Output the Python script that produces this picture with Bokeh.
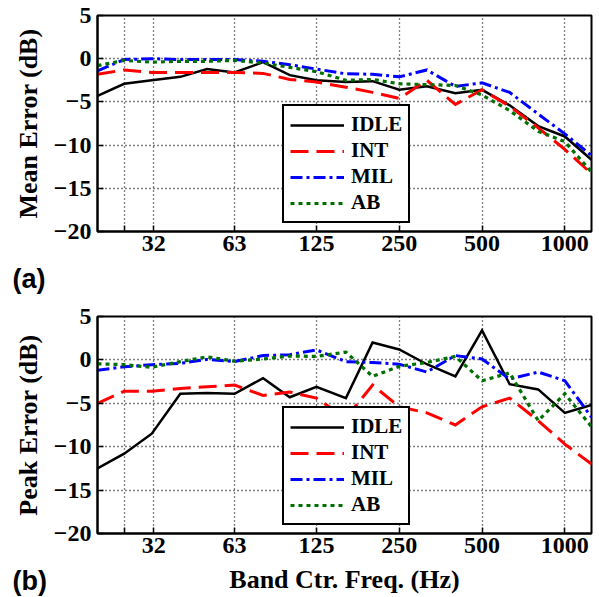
from bokeh.plotting import figure
from bokeh.layouts import column
from bokeh.models import FixedTicker, Label, Legend, LegendItem, Range1d
from bokeh.embed import file_html
from bokeh.resources import INLINE

# ---------------- data ----------------
FREQS = [20, 25, 31.5, 40, 50, 63, 80, 100, 125, 160, 200, 250, 315, 400,
         500, 630, 800, 1000, 1250]
XTICKS = [25, 32, 63, 125, 250, 500, 1000]
XTICK_LABELS = ["", "32", "63", "125", "250", "500", "1000"]
YTICKS = [-20, -15, -10, -5, 0, 5]
YTICK_LABELS = ["\u221220", "\u221215", "\u221210", "\u22125", "0", "5"]
SERIES = ["IDLE", "INT", "MIL", "AB"]

mean_idle = [-4.3, -2.9, -2.5, -2.1, -1.2, -1.6, -0.4, -1.9, -2.5, -2.7,
             -2.6, -3.6, -3.2, -4.0, -3.6, -5.4, -7.8, -9.0, -11.7]
mean_int = [-1.8, -1.3, -1.6, -1.6, -1.6, -1.6, -1.7, -2.4, -2.7, -3.3,
            -3.9, -4.6, -2.5, -5.3, -3.6, -5.5, -8.0, -10.5, -13.3]
mean_mil = [-1.4, -0.1, 0.0, -0.1, -0.1, -0.1, -0.3, -0.7, -1.2, -1.75,
            -1.8, -2.1, -1.3, -3.2, -2.8, -3.9, -6.4, -8.7, -11.2]
mean_ab = [-0.8, -0.2, -0.4, -0.3, -0.3, -0.2, -0.5, -1.0, -1.5, -2.5,
           -2.4, -2.9, -3.0, -3.1, -4.2, -6.0, -8.4, -9.6, -13.1]

peak_idle = [-12.5, -10.8, -8.5, -3.9, -3.8, -3.9, -2.1, -4.3, -3.1, -4.4,
             2.0, 1.2, -0.5, -1.9, 3.4, -2.8, -3.4, -6.1, -5.2]
peak_int = [-5.0, -3.6, -3.6, -3.3, -3.1, -2.9, -4.1, -3.7, -4.4, -6.7,
            -2.9, -5.4, -6.1, -7.5, -5.4, -4.4, -7.0, -9.7, -12.0]
peak_mil = [-1.2, -0.8, -0.55, -0.4, 0.05, -0.2, 0.5, 0.6, 1.15, -0.2,
            -0.3, -0.5, -1.4, 0.5, 0.1, -2.2, -1.4, -2.4, -6.6]
peak_ab = [-0.45, -0.55, -0.85, -0.2, 0.35, -0.15, 0.1, 0.45, 0.4, 0.9,
           -1.9, -0.75, -0.3, 0.4, -2.4, -1.5, -7.0, -3.9, -7.7]

# ---------------- styles ----------------
STYLES = {
    "IDLE": dict(color="black", dash="solid", width=2.5),
    "INT": dict(color="#ff0000", dash="18 8", width=3),
    "MIL": dict(color="#0000ff", dash="12 4 3 4", width=3),
    "AB": dict(color="#007000", dash="4 4", width=3.2),
}
SERIF = "Liberation Serif"
SANS = "Liberation Sans"
W = 598


def make_panel(series, ylabel, height, border_top, border_bottom):
    p = figure(width=W, height=height, x_axis_type="log",
               x_range=Range1d(20, 1250), y_range=Range1d(-20, 5),
               output_backend="svg", toolbar_location=None,
               min_border_left=97, min_border_right=7,
               min_border_top=border_top, min_border_bottom=border_bottom)
    p.background_fill_color = "white"
    p.border_fill_color = "white"
    p.outline_line_color = "black"
    p.outline_line_width = 2

    for ax in p.xaxis:
        ax.ticker = FixedTicker(ticks=XTICKS)
        ax.major_label_overrides = dict(zip(XTICKS, XTICK_LABELS))
        ax.major_label_standoff = 4
    for ax in p.yaxis:
        ax.ticker = FixedTicker(ticks=YTICKS)
        ax.major_label_overrides = dict(zip(YTICKS, YTICK_LABELS))
        ax.major_label_standoff = 6
        ax.axis_label = ylabel
        ax.axis_label_standoff = 8
        ax.axis_label_text_font = SERIF
        ax.axis_label_text_font_style = "bold"
        ax.axis_label_text_font_size = "26px"
        ax.axis_label_text_color = "black"
    for ax in list(p.xaxis) + list(p.yaxis):
        ax.major_label_text_font = SERIF
        ax.major_label_text_font_style = "bold"
        ax.major_label_text_font_size = "24px"
        ax.major_label_text_color = "black"
        ax.major_tick_in = 6
        ax.major_tick_out = 0
        ax.minor_tick_in = 0
        ax.minor_tick_out = 0
        ax.axis_line_width = 2
        ax.major_tick_line_width = 1.5

    p.xgrid.ticker = FixedTicker(ticks=XTICKS)
    p.ygrid.ticker = FixedTicker(ticks=YTICKS)
    for g in (p.xgrid, p.ygrid):
        g.grid_line_color = "black"
        g.grid_line_dash = "1 3"
        g.grid_line_width = 1.3

    items = []
    for name, vals in zip(SERIES, series):
        st = STYLES[name]
        r = p.line(FREQS, vals, line_color=st["color"], line_width=st["width"],
                   line_dash=st["dash"], line_join="miter")
        items.append(LegendItem(label=name, renderers=[r]))

    legend = Legend(items=items, location=(185, 8))
    legend.border_line_color = "black"
    legend.border_line_alpha = 1
    legend.border_line_width = 2
    legend.background_fill_color = "white"
    legend.background_fill_alpha = 1
    legend.label_text_font = SERIF
    legend.label_text_font_style = "bold"
    legend.label_text_font_size = "21px"
    legend.label_text_color = "black"
    legend.glyph_width = 54
    legend.glyph_height = 22
    legend.label_height = 22
    legend.spacing = 1
    legend.padding = 6
    legend.label_standoff = 7
    legend.margin = 0
    p.add_layout(legend, "center")
    return p


def make_strip(height, texts):
    s = figure(width=W, height=height, x_range=Range1d(0, W),
               y_range=Range1d(0, height), output_backend="svg", title=None,
               toolbar_location=None, x_axis_location=None,
               y_axis_location=None, min_border_left=0, min_border_right=0,
               min_border_top=0, min_border_bottom=0, frame_align=False)
    s.outline_line_color = None
    s.xgrid.visible = False
    s.ygrid.visible = False
    s.background_fill_color = "white"
    s.border_fill_color = "white"
    for (x, y, txt, font, size, align) in texts:
        s.add_layout(Label(x=x, y=y, text=txt, text_font=font,
                           text_font_style="bold", text_font_size=size,
                           text_baseline="alphabetic", text_align=align,
                           text_color="black"))
    return s


p1 = make_panel([mean_idle, mean_int, mean_mil, mean_ab], "Mean Error (dB)",
                height=262, border_top=15, border_bottom=31)
strip_a = make_strip(38, [(12, 22, "(a)", SANS, "27px", "left")])
p2 = make_panel([peak_idle, peak_int, peak_mil, peak_ab], "Peak Error (dB)",
                height=264, border_top=16, border_bottom=31)
strip_b = make_strip(32, [(12, 16, "(b)", SANS, "27px", "left"),
                          (344, 17, "Band Ctr. Freq. (Hz)", SERIF, "26px", "center")])

layout = column(p1, strip_a, p2, strip_b, spacing=0)
open("out.html", "w").write(file_html(layout, INLINE))
